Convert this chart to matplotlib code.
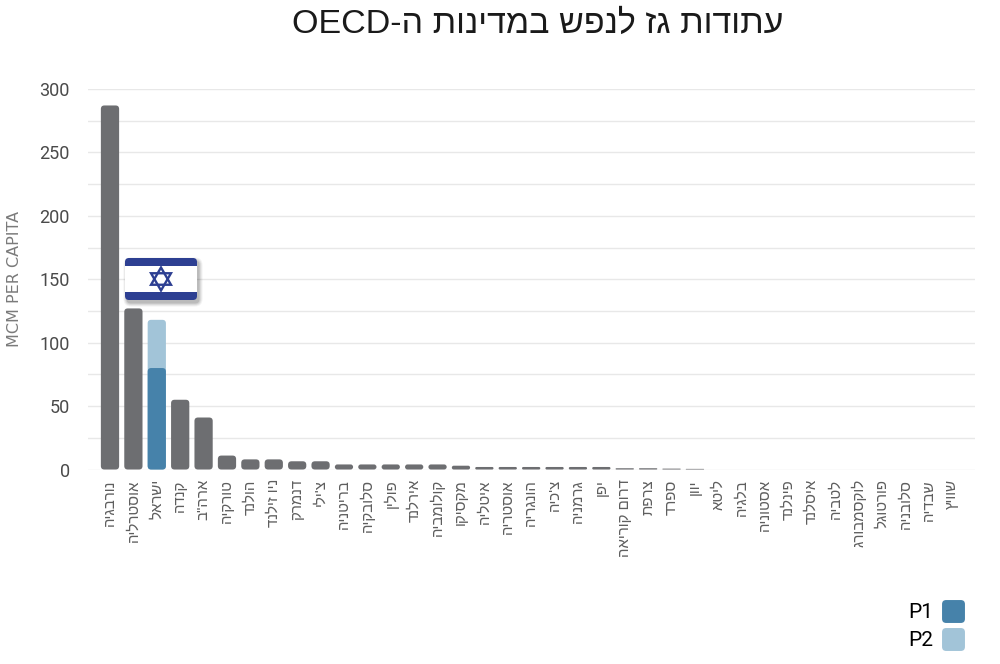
#!/usr/bin/env python3
"""
Gas reserves per capita in OECD countries - bar chart with Israel highlighted
"""

import re
import matplotlib
matplotlib.use('Agg')
import matplotlib.pyplot as plt
from matplotlib.patches import FancyBboxPatch, Polygon, BoxStyle
from matplotlib.lines import Line2D

# Chart data (MCM per capita)
countries = ['נורבגיה', 'אוסטרליה', 'ישראל', 'קנדה', 'ארה"ב', 'טורקיה', 'הולנד',
             'ניו זילנד', 'דנמרק', "צ'ילי", 'בריטניה', 'סלובקיה', 'פולין', 'אירלנד',
             'קולומביה', 'מקסיקו', 'איטליה', 'אוסטריה', 'הונגריה', "צ'כיה", 'גרמניה',
             'יפן', 'דרום קוריאה', 'צרפת', 'ספרד', 'יוון', 'ליטא', 'בלגיה', 'אסטוניה',
             'פינלנד', 'איסלנד', 'לטביה', 'לוקסמבורג', 'פורטוגל', 'סלובניה', 'שבדיה',
             'שוויץ']
reserves = [287, 127, 118, 55, 41, 11, 8, 8, 6.5, 6.5, 4, 4, 4, 4, 4, 3, 2, 2, 2,
            2, 2, 2, 1, 1, 0.7, 0.5, 0, 0, 0, 0, 0, 0, 0, 0, 0, 0, 0]
israel_index = 2
israel_p1 = 80
israel_p2 = 38
legend_labels = ['P1', 'P2']

title = 'עתודות גז לנפש במדינות ה-OECD'
y_label = 'MCM PER CAPITA'

GRAY = '#6d6e71'
P1_COLOR = '#4682aa'
P2_COLOR = '#a2c4d8'
FLAG_BLUE = '#2d3f92'
HEB_FONT = ['Liberation Sans', 'DejaVu Sans']
NUM_FONT = ['Roboto', 'DejaVu Sans']


def visual(text):
    """matplotlib has no bidi support: flip Hebrew to visual order, keep latin runs"""
    flipped = text[::-1]
    return re.sub(r'[A-Za-z0-9]+', lambda m: m.group(0)[::-1], flipped)


def rounded_bar(ax, x, bottom, height, width, color, radius_px, px_x, px_y):
    """Draw one bar with rounded corners, sizes in data units"""
    if height <= 0:
        return
    aspect = px_y / px_x  # data-y per pixel / data-x per pixel
    r = radius_px * px_x
    r = min(r, width / 2, height / aspect / 2)
    patch = FancyBboxPatch((x - width / 2, bottom), width, height,
                           boxstyle=BoxStyle('Round', pad=0, rounding_size=r),
                           mutation_aspect=aspect, facecolor=color,
                           edgecolor='none', zorder=3)
    ax.add_patch(patch)


def draw_flag(fig, left, top, w, h):
    """Israeli flag badge with a soft shadow, in figure pixel units"""
    W, H = 1000, 664
    pad = 8
    fax = fig.add_axes([(left - pad) / W, (H - top - h - pad) / H,
                        (w + 2 * pad) / W, (h + 2 * pad) / H])
    fax.set_xlim(-pad, w + pad)
    fax.set_ylim(h + pad, -pad)
    fax.axis('off')
    # shadow
    for i, a in enumerate([0.05, 0.06, 0.08, 0.10]):
        grow = 3.5 - i
        fax.add_patch(FancyBboxPatch((2 - grow, 3 - grow), w + 2 * grow, h + 2 * grow,
                                     boxstyle=BoxStyle('Round', pad=0, rounding_size=4 + grow),
                                     facecolor='#000000', alpha=a, edgecolor='none'))
    fax.add_patch(FancyBboxPatch((0, 0), w, h,
                                 boxstyle=BoxStyle('Round', pad=0, rounding_size=4),
                                 facecolor=FLAG_BLUE, edgecolor='none'))
    stripe = h * 0.2
    fax.add_patch(plt.Rectangle((0, stripe), w, h - 2 * stripe,
                                facecolor='white', edgecolor='none'))
    # star of david
    cx, cy, R = w * 0.5, h * 0.5, 11.5
    up = [(cx, cy - R), (cx + R * 0.866, cy + R * 0.5), (cx - R * 0.866, cy + R * 0.5)]
    down = [(cx, cy + R), (cx + R * 0.866, cy - R * 0.5), (cx - R * 0.866, cy - R * 0.5)]
    for tri in (up, down):
        fax.add_patch(Polygon(tri, closed=True, fill=False, edgecolor=FLAG_BLUE,
                              linewidth=1.7, joinstyle='miter'))


def main():
    fig = plt.figure(figsize=(10, 6.64), dpi=100)
    ax = fig.add_axes([0.088, 0.2929, 0.887, 0.5731])

    x = list(range(len(countries)))
    xmin, xmax = -0.94, 36.97
    ymin, ymax = 0, 300
    ax.set_xlim(xmin, xmax)
    ax.set_ylim(ymin, ymax)

    # pixel sizes in data units (for rounded corners)
    px_x = (xmax - xmin) / (0.887 * 1000)
    px_y = (ymax - ymin) / (0.5731 * 664)
    width = 0.78

    for i, v in enumerate(reserves):
        if i == israel_index:
            rounded_bar(ax, i, 0, israel_p1 + israel_p2, width, P2_COLOR, 3.5, px_x, px_y)
            rounded_bar(ax, i, 0, israel_p1, width, P1_COLOR, 3.5, px_x, px_y)
        else:
            rounded_bar(ax, i, 0, v, width, GRAY, 3.5, px_x, px_y)

    # grid
    ax.set_yticks(range(0, 301, 50))
    ax.set_yticks(range(0, 301, 25), minor=True)
    ax.grid(axis='y', which='both', color='#e8e8e8', linewidth=1.0, zorder=0)
    ax.set_axisbelow(True)
    for s in ax.spines.values():
        s.set_visible(False)
    ax.tick_params(axis='y', which='both', length=0, pad=13, labelsize=13,
                   labelcolor='#4a4a4a')
    ax.tick_params(axis='x', length=0, pad=7)
    for lbl in ax.get_yticklabels():
        lbl.set_family(NUM_FONT)

    ax.set_xticks(x)
    ax.set_xticklabels([visual(c) for c in countries], rotation=90,
                       fontsize=10.8, color='#5e5e5e', family=HEB_FONT)

    ax.set_ylabel(y_label, fontsize=11.5, color='#7a7a7a', family='DejaVu Sans')
    ax.yaxis.set_label_coords(-0.074, 0.5)

    fig.text(0.5375, 0.963, visual(title), ha='center', va='center',
             fontsize=24.5, color='#1a1a1a', family=HEB_FONT)

    draw_flag(fig, 125, 258, 72, 42)

    # legend, text before the swatch
    sq = BoxStyle('Round', pad=0, rounding_size=0.18)(-0.5, -0.5, 1, 1, 1.0)
    handles = [Line2D([], [], linestyle='none', marker=sq, markersize=16.5,
                      markerfacecolor=c, markeredgecolor='none')
               for c in (P1_COLOR, P2_COLOR)]
    fig.legend(handles, legend_labels, loc='lower right',
               bbox_to_anchor=(0.98, -0.004), frameon=False, markerfirst=False,
               handlelength=1.0, handletextpad=0.45,
               labelspacing=0.42, borderpad=0.3, prop={'family': NUM_FONT, 'size': 15})

    plt.savefig('out.png', dpi=100)


if __name__ == "__main__":
    main()
